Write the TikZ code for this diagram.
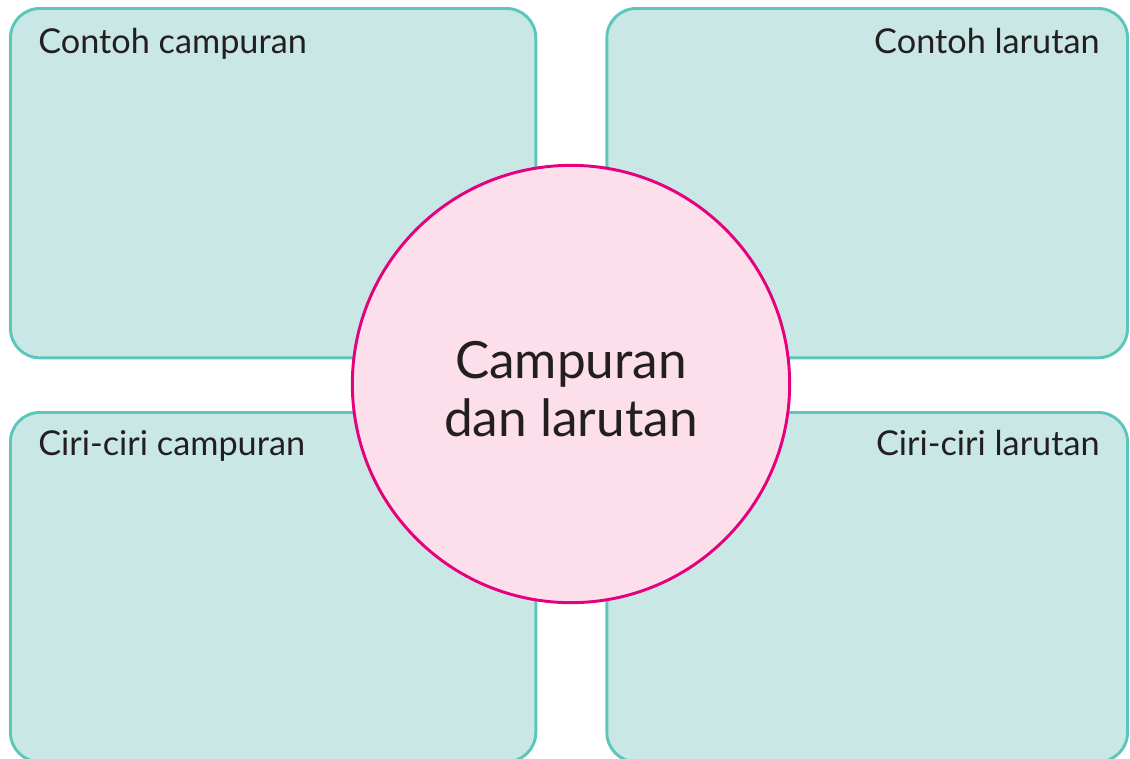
\documentclass[tikz,border=0pt]{standalone}
\usepackage{fontspec}
\setmainfont{Lato}
\usepackage{xcolor}
\definecolor{kotakisi}{HTML}{C9E8E5}
\definecolor{kotakgaris}{HTML}{5CC6BC}
\definecolor{bulatisi}{HTML}{FCDFEA}
\definecolor{bulatgaris}{HTML}{E5007D}
\definecolor{teks}{HTML}{231F20}
\tikzset{
  kotak/.style={draw=kotakgaris, fill=kotakisi, line width=2.2pt,
    rounded corners=22pt, minimum width=394pt, minimum height=262pt, inner sep=0pt},
  judul/.style={font=\fontsize{25.7}{30}\selectfont, text=teks, inner sep=0pt},
}

\begin{document}
\begin{tikzpicture}[x=0.75pt, y=-0.75pt]
  \useasboundingbox (0,0) rectangle (1130,758);
  \clip (0,0) rectangle (1130,758);
  % empat kotak
  \node[kotak, anchor=north west] (kotakca) at (9,7) {};
  \node[kotak, anchor=north east, minimum width=390.5pt] (kotakcl) at (1129,7) {};
  \node[kotak, anchor=north west] (kotakcc) at (9,411) {};
  \node[kotak, anchor=north east, minimum width=390.5pt] (kotakcr) at (1129,411) {};
  % judul kotak
  \node[judul, anchor=base west] (lblca) at (38,53) {Contoh campuran};
  \node[judul, anchor=base east] (lblcl) at (1100,53) {Contoh larutan};
  \node[judul, anchor=base west] (lblcc) at (38,455) {Ciri-ciri campuran};
  \node[judul, anchor=base east] (lblcr) at (1100,455) {Ciri-ciri larutan};
  % lingkaran tengah
  \node[circle, draw=bulatgaris, fill=bulatisi, line width=2.2pt,
    minimum size=328pt, inner sep=0pt] (pusat) at (571,384) {};
  \node[font=\fontsize{38.5}{43}\selectfont, text=teks, align=center,
    inner sep=0pt, anchor=base] (judulpusat) at (571,436) {Campuran\\dan larutan};
\end{tikzpicture}
\end{document}
